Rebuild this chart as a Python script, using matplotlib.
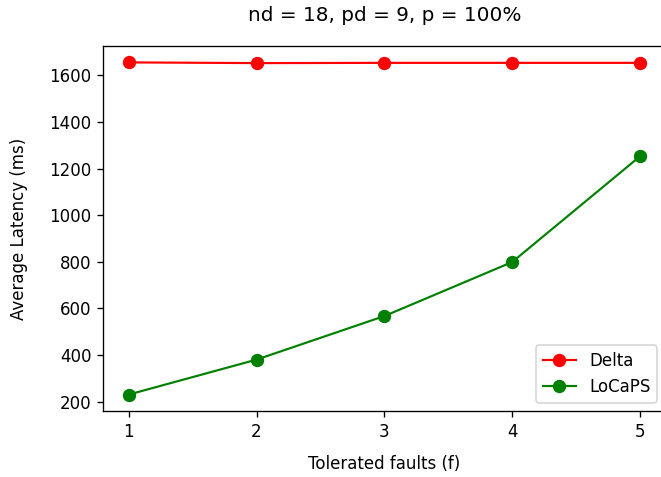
import matplotlib
matplotlib.use("Agg")
import matplotlib.pyplot as plt

faults = [1, 2, 3, 4, 5]
delta = [1656, 1653, 1654, 1654, 1654]
locaps = [230, 380, 567, 799, 1253]

# rendered at 120 dpi so that fonts and lines come out a bit larger
fig = plt.figure(figsize=(661 / 120, 477 / 120), dpi=120)
ax = fig.add_axes([0.156, 0.138, 0.851, 0.766])

ax.plot(faults, delta, color='red', marker='o', markersize=7, linewidth=1.3, label='Delta')
ax.plot(faults, locaps, color='green', marker='o', markersize=7, linewidth=1.3, label='LoCaPS')

ax.set_xticks(faults)
ax.set_yticks([200, 400, 600, 800, 1000, 1200, 1400, 1600])
ax.set_title('nd = 18, pd = 9, p = 100%', pad=15)
ax.set_xlabel('Tolerated faults (f)')
ax.set_ylabel('Average Latency (ms)')
ax.xaxis.set_label_coords(0.5, -0.121)
ax.yaxis.set_label_coords(-0.134, 0.5)
ax.legend(loc='lower right')

fig.savefig('out.png', dpi=120)
